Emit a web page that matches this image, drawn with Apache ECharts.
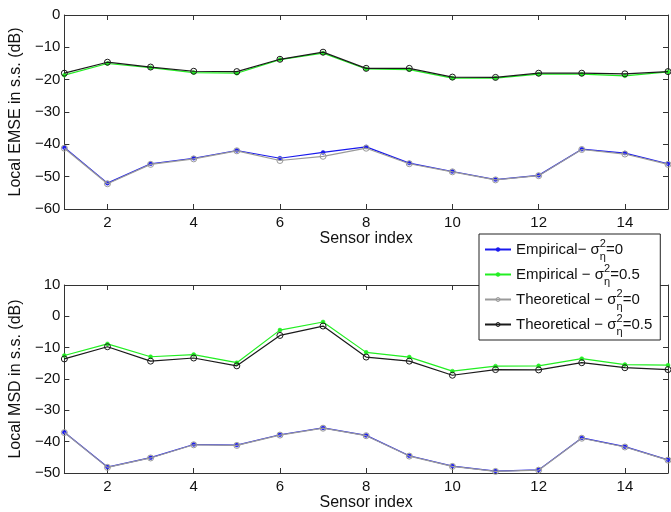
<!DOCTYPE html>
<html>
<head>
<meta charset="utf-8">
<script src="https://cdn.jsdelivr.net/npm/echarts@6/dist/echarts.min.js"></script>
<style>
  html, body { margin: 0; padding: 0; background: #fff; }
  #chart { width: 671px; height: 512px; }
</style>
</head>
<body>
<div id="chart"></div>
<script>
// Sensor indices along the horizontal axis
const sensors = [1, 2, 3, 4, 5, 6, 7, 8, 9, 10, 11, 12, 13, 14, 15];
const xTickValues = [2, 4, 6, 8, 10, 12, 14];

// Local EMSE in steady state (dB)
const emseEmp0  = [-41.0, -52.0, -46.0, -44.3, -41.9, -44.3, -42.5, -40.8, -45.8, -48.4, -50.9, -49.6, -41.5, -42.7, -46.0];
const emseEmp05 = [-18.6, -15.0, -16.3, -17.8, -18.0, -13.8, -11.8, -16.7, -16.9, -19.5, -19.5, -18.3, -18.3, -18.8, -17.6];
const emseThe0  = [-41.2, -52.2, -46.2, -44.5, -42.0, -45.0, -43.7, -41.2, -46.0, -48.5, -51.0, -49.7, -41.6, -43.0, -46.2];
const emseThe05 = [-18.0, -14.6, -16.1, -17.4, -17.5, -13.7, -11.5, -16.5, -16.5, -19.2, -19.3, -18.0, -18.0, -18.2, -17.5];

// Local MSD in steady state (dB)
const msdEmp0  = [-37.0, -48.1, -45.1, -40.9, -41.1, -37.8, -35.6, -38.0, -44.5, -47.8, -49.4, -49.0, -38.8, -41.6, -45.8];
const msdEmp05 = [-12.5, -8.8, -12.9, -12.2, -14.8, -4.4, -1.8, -11.5, -13.0, -17.5, -15.9, -15.8, -13.5, -15.4, -15.6];
const msdThe0  = [-37.1, -48.2, -45.2, -41.0, -41.2, -37.9, -35.7, -38.1, -44.6, -47.9, -49.5, -49.1, -38.9, -41.7, -45.9];
const msdThe05 = [-13.6, -9.7, -14.3, -13.3, -15.8, -6.1, -3.1, -13.0, -14.3, -18.8, -17.0, -17.1, -14.8, -16.4, -17.0];

const seriesNames = ['Empirical − σ2η=0', 'Empirical − σ2η=0.5', 'Theoretical − σ2η=0', 'Theoretical − σ2η=0.5'];
const legendLabels = [
  '{t|Empirical− σ}{sup|2}{sub|η}{t|=0}',
  '{t|Empirical − σ}{sup|2}{sub|η}{t|=0.5}',
  '{t|Theoretical − σ}{sup|2}{sub|η}{t|=0}',
  '{t|Theoretical − σ}{sup|2}{sub|η}{t|=0.5}'
];
const colors = ['#1a1aee', '#22ee22', '#9a9a9a', '#1a1a1a'];

const FONT = '"Liberation Sans", Arial, Helvetica, sans-serif';
const minus = v => (v < 0 ? '\u2212' + (-v) : String(v));
const pairs = arr => sensors.map((s, i) => [s, arr[i]]);

// Empirical curves use small filled dots, theoretical curves use hollow rings
function markerStyle(idx) {
  return idx < 2
    ? { color: colors[idx], borderColor: colors[idx], borderWidth: 0.5 }
    : { color: 'rgba(255,255,255,0)', borderColor: colors[idx], borderWidth: 1 };
}

function lineSeries(name, idx, values, axisIdx) {
  return {
    name: name,
    type: 'line',
    xAxisIndex: axisIdx * 2,
    yAxisIndex: axisIdx * 2,
    data: pairs(values),
    symbol: 'circle',
    symbolSize: idx < 2 ? 4 : 6,
    showSymbol: true,
    color: colors[idx],
    lineStyle: { width: 1.2, color: colors[idx] },
    itemStyle: markerStyle(idx),
    emphasis: { disabled: true },
    animation: false,
    z: 2 + idx
  };
}

function xAxes(gridIndex) {
  const common = {
    type: 'value', gridIndex: gridIndex, min: 1, max: 15,
    splitLine: { show: false },
    axisLine: { show: true, onZero: false, lineStyle: { color: '#333', width: 1 } },
    axisTick: { show: true, inside: true, length: 5, customValues: xTickValues, lineStyle: { color: '#333' } }
  };
  return [
    Object.assign({}, common, {
      position: 'bottom',
      name: 'Sensor index', nameLocation: 'middle', nameGap: 22,
      nameTextStyle: { fontFamily: FONT, fontSize: 16, color: '#111' },
      axisLabel: { customValues: xTickValues, fontFamily: FONT, fontSize: 15, color: '#111', margin: 6 }
    }),
    Object.assign({}, common, { position: 'top', axisLabel: { show: false } })
  ];
}

function yAxes(gridIndex, min, max, title) {
  const common = {
    type: 'value', gridIndex: gridIndex, min: min, max: max, interval: 10,
    splitLine: { show: false },
    axisLine: { show: true, onZero: false, lineStyle: { color: '#333', width: 1 } },
    axisTick: { show: true, inside: true, length: 5, lineStyle: { color: '#333' } }
  };
  return [
    Object.assign({}, common, {
      position: 'left',
      name: title, nameLocation: 'middle', nameGap: 34,
      nameTextStyle: { fontFamily: FONT, fontSize: 16, color: '#111' },
      axisLabel: { formatter: minus, fontFamily: FONT, fontSize: 15, color: '#111', margin: 4 }
    }),
    Object.assign({}, common, { position: 'right', axisLabel: { show: false } })
  ];
}

const chart = echarts.init(document.getElementById('chart'), null, { renderer: 'canvas' });

const series = [];
[emseEmp0, emseEmp05, emseThe0, emseThe05].forEach((v, i) => series.push(lineSeries(seriesNames[i], i, v, 0)));
[msdEmp0, msdEmp05, msdThe0, msdThe05].forEach((v, i) => series.push(lineSeries(seriesNames[i], i, v, 1)));

chart.setOption({
  backgroundColor: '#fff',
  animation: false,
  grid: [
    { left: 64, top: 15, width: 604, height: 194, containLabel: false },
    { left: 64, top: 285, width: 604, height: 194, containLabel: false }
  ],
  xAxis: xAxes(0).concat(xAxes(1)),
  yAxis: yAxes(0, -60, 0, 'Local EMSE in s.s. (dB)').concat(yAxes(1, -50, 10, 'Local MSD in s.s. (dB)')),
  legend: {
    data: seriesNames.map((n, i) => ({ name: n, itemStyle: markerStyle(i) })),
    orient: 'vertical',
    left: 479,
    top: 234,
    width: 176,
    backgroundColor: '#fff',
    borderColor: '#222',
    borderWidth: 1,
    borderRadius: 0,
    padding: [3, 8, 3, 5],
    itemGap: 0,
    itemWidth: 26,
    itemHeight: 5,
    selectedMode: false,
    formatter: name => legendLabels[seriesNames.indexOf(name)],
    textStyle: {
      fontFamily: FONT,
      fontSize: 15,
      color: '#111',
      lineHeight: 25,
      rich: {
        t: { fontFamily: FONT, fontSize: 15, color: '#111', lineHeight: 25 },
        sup: { fontFamily: FONT, fontSize: 11, color: '#111', verticalAlign: 'top', width: 0, lineHeight: 25, padding: [1, 0, 0, 0] },
        sub: { fontFamily: FONT, fontSize: 11, color: '#111', verticalAlign: 'bottom', lineHeight: 25 }
      }
    }
  },
  series: series
});
</script>
</body>
</html>
